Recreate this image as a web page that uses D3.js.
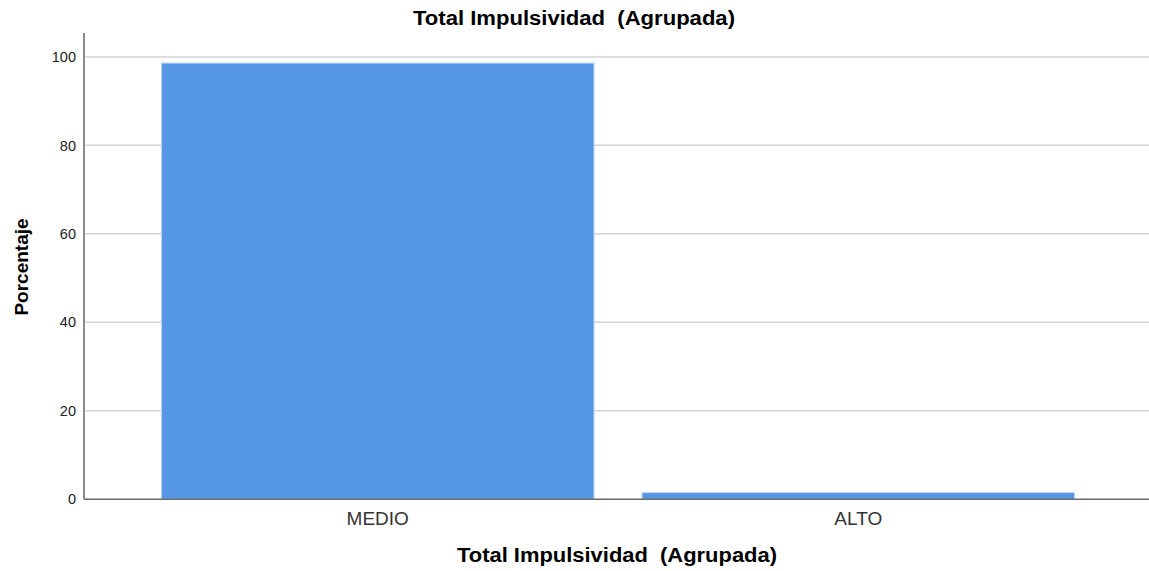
<!DOCTYPE html>
<html><head><meta charset="utf-8">
<script src="https://cdn.jsdelivr.net/npm/d3@7"></script>
<style>body{margin:0;background:#fff}svg{display:block}</style>
</head><body>
<svg id="c" width="1149" height="571"></svg>
<script>
const categories = ["MEDIO", "ALTO"];
const values = [98.6, 1.5];
const yTicks = [0, 20, 40, 60, 80, 100];
const chartTitle = "Total Impulsividad  (Agrupada)";
const xTitle = "Total Impulsividad  (Agrupada)";
const yTitle = "Porcentaje";

const FONT = "Liberation Sans, Arial, sans-serif";
const svg = d3.select("#c");
const W = 1149, H = 571;
const m = {left: 84, right: 0, top: 33, bottom: 72};
const y = d3.scaleLinear().domain([0, 105.4]).range([499.3, m.top]);
const x = d3.scaleBand().domain(categories).range([137.5, 1098.5]).paddingInner(0.1).paddingOuter(0.05);

// gridlines
svg.append("g").selectAll("line").data(yTicks.filter(d => d > 0)).join("line")
  .attr("x1", m.left).attr("x2", W).attr("y1", d => y(d)).attr("y2", d => y(d))
  .attr("stroke", "#d4d4d4").attr("stroke-width", 1.5);

// bars
svg.append("g").selectAll("rect").data(categories).join("rect")
  .attr("x", d => x(d)).attr("width", x.bandwidth())
  .attr("y", (d, i) => y(values[i])).attr("height", (d, i) => y(0) - y(values[i]))
  .attr("fill", "#5596e5").attr("stroke", "#b9d3f3").attr("stroke-width", 1);

// y axis
const ya = svg.append("g").attr("transform", `translate(${m.left},0)`)
  .call(d3.axisLeft(y).tickValues(yTicks).tickSize(0).tickPadding(8));
ya.select(".domain").remove();
ya.selectAll("text").attr("font-family", FONT).attr("font-size", 14.5).attr("fill", "#222");
svg.append("line").attr("x1", m.left).attr("x2", m.left).attr("y1", m.top).attr("y2", y(0))
  .attr("stroke", "#8a8a8a").attr("stroke-width", 2);

// x axis
const xa = svg.append("g").attr("transform", `translate(0,${y(0)})`)
  .call(d3.axisBottom(x).tickSize(0).tickPadding(12));
xa.select(".domain").remove();
xa.selectAll("text").attr("font-family", FONT).attr("font-size", 19).attr("fill", "#333");
svg.append("line").attr("x1", m.left).attr("x2", W).attr("y1", y(0)).attr("y2", y(0))
  .attr("stroke", "#6a6a6a").attr("stroke-width", 1.5);

// titles
svg.append("text").attr("x", 574).attr("y", 25).attr("text-anchor", "middle")
  .attr("font-family", FONT).attr("font-size", 20).attr("font-weight", "bold")
  .attr("fill", "#000").style("white-space", "pre")
  .attr("textLength", 322).attr("lengthAdjust", "spacingAndGlyphs").text(chartTitle);
svg.append("text").attr("x", 617).attr("y", 562).attr("text-anchor", "middle")
  .attr("font-family", FONT).attr("font-size", 20).attr("font-weight", "bold")
  .attr("fill", "#000").style("white-space", "pre")
  .attr("textLength", 320).attr("lengthAdjust", "spacingAndGlyphs").text(xTitle);
svg.append("text").attr("transform", "translate(28,267) rotate(-90)").attr("text-anchor", "middle")
  .attr("font-family", FONT).attr("font-size", 19).attr("font-weight", "bold")
  .attr("fill", "#000").text(yTitle);
</script>
</body></html>
